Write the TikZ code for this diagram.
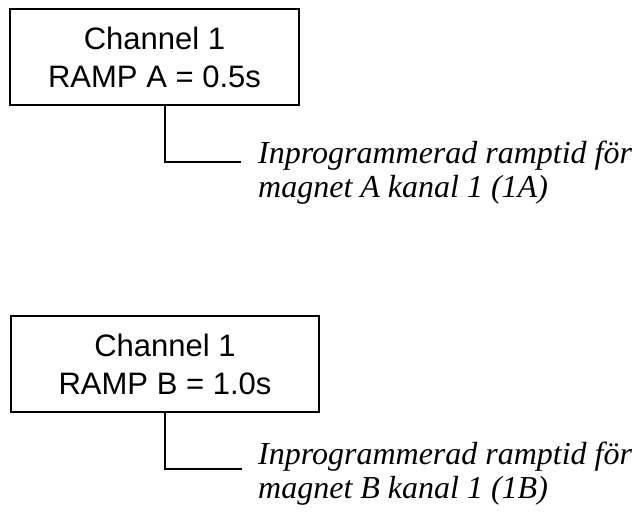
\documentclass[tikz,border=0pt]{standalone}
\usepackage{fontspec}
\setmainfont{Liberation Serif}
\setsansfont{Liberation Sans}
\usepackage{tikz}

\begin{document}
\begin{tikzpicture}[x=1pt,y=-1pt]
\tikzstyle{every node}+=[inner sep=0pt]
\tikzstyle{chanbox}=[draw=black,line width=1.5pt,rectangle,align=center,
  font=\sffamily\fontsize{31}{38}\selectfont]
\tikzstyle{note}=[anchor=base west,align=left,
  font=\rmfamily\itshape\fontsize{32}{34}\selectfont]
\useasboundingbox (0,0) rectangle (641,514);
\node [chanbox,minimum width=289,minimum height=96] (box1) at (154.5,57) {Channel 1\\RAMP A = 0.5s};
\node [note] (note1) at (258,197) {Inprogrammerad ramptid för\\magnet A kanal 1 (1A)};
\coordinate (bend1) at (165,162);
\coordinate (tip1) at (241,162);
\draw [line width=1.5pt] (bend1 |- box1.south) -- (bend1) -- (tip1);
\node [chanbox,minimum width=308,minimum height=96] (box2) at (165,364) {Channel 1\\RAMP B = 1.0s};
\node [note] (note2) at (258,498) {Inprogrammerad ramptid för\\magnet B kanal 1 (1B)};
\coordinate (bend2) at (165,469);
\coordinate (tip2) at (242,469);
\draw [line width=1.5pt] (bend2 |- box2.south) -- (bend2) -- (tip2);
\end{tikzpicture}
\end{document}
